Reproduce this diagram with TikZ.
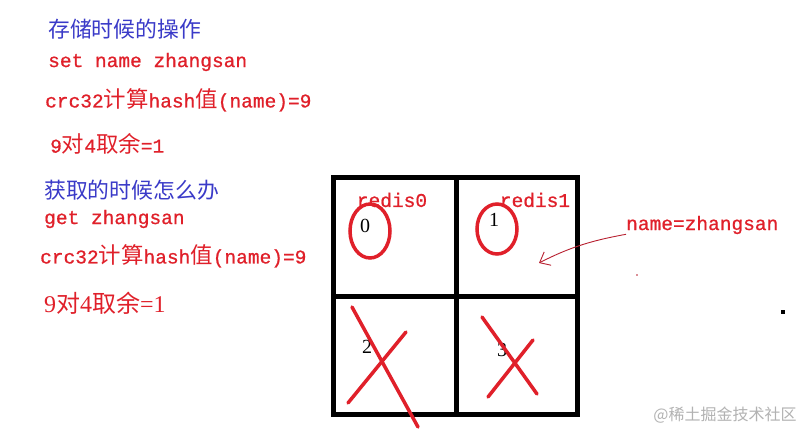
\documentclass[tikz,border=0pt]{standalone}
\usepackage{fontspec}
\setmonofont[FakeBold=0.8]{Liberation Mono}
\newfontfamily\cjk[Scale=1.15]{Noto Sans CJK SC}
\newfontfamily\cjkbig{Noto Sans CJK SC}
\newfontfamily\digitfont{Liberation Serif}
\newfontfamily\markfont{Noto Sans CJK SC}
\usetikzlibrary{arrows.meta}
\newcommand{\zh}[1]{{\cjk #1}}
\definecolor{penred}{HTML}{E0202A}
\definecolor{penblue}{HTML}{3A3AC8}
\definecolor{inkred}{HTML}{B82030}
\tikzset{
  redtxt/.style={text=penred, anchor=west, inner sep=0pt,
    font=\ttfamily\fontsize{19.5}{20}\selectfont},
  bluetxt/.style={text=penblue, anchor=west, inner sep=0pt,
    font=\fontsize{19}{20}\selectfont},
  cellnum/.style={inner sep=0pt, font=\digitfont\fontsize{20}{21}\selectfont},
  gridpen/.style={line width=5pt},
  circpen/.style={draw=penred, line width=3.5pt},
  crosspen/.style={draw=penred, line width=3.5pt, line cap=round},
}
\begin{document}
\begin{tikzpicture}[x=1pt, y=-1pt]
  \useasboundingbox[fill=white] (0,0) rectangle (806,431);

  % Texts on the left
  \node[bluetxt] (store) at (48,29) {\zh{存储时候的操作}};
  \node[redtxt] (set) at (48,62) {set name zhangsan};
  \node[redtxt] (crcA) at (45,100) {crc32\zh{计算}hash\zh{值}(name)=9};
  \node[redtxt] (modA) at (50,144) {9\zh{对}4\zh{取余}=1};
  \node[bluetxt] (fetch) at (44,190) {\zh{获取的时候怎么办}};
  \node[redtxt] (get) at (44,219) {get zhangsan};
  \node[redtxt] (crcB) at (40,256) {crc32\zh{计算}hash\zh{值}(name)=9};
  \node[redtxt, font=\digitfont\fontsize{24}{25}\selectfont] (modB) at (44,303)
    {9{\cjkbig 对}4{\cjkbig 取余}=1};

  % Grid of the four redis
  \draw[gridpen] (333,177) rectangle (577,414);
  \draw[gridpen] (456,177) -- (456,414);
  \draw[gridpen] (333,296) -- (577,296);

  % Cell labels
  \node[redtxt, anchor=center] (r0) at (392,200) {redis0};
  \node[redtxt, anchor=center] (r1) at (535,200) {redis1};
  \node[cellnum] (n0) at (365,226) {0};
  \node[cellnum] (n1) at (494,220) {1};
  \node[cellnum] (n2) at (367,347) {2};
  \node[cellnum] (n3) at (502,350) {3};

  % Circles and crosses
  \draw[circpen] (370,231) ellipse [x radius=20, y radius=27];
  \draw[circpen] (497,229) ellipse [x radius=20, y radius=25];
  \draw[crosspen] (352,307) -- (418,427);
  \draw[crosspen] (406,332) -- (348,403);
  \draw[crosspen] (482,317) -- (537,394);
  \draw[crosspen] (533,340) -- (488,397);

  % Key and arrow
  \node[redtxt] (key) at (626,225) {name=zhangsan};
  \coordinate (tip) at (539,263);
  \draw[inkred, line width=0.9pt, -{Straight Barb[length=9pt, width=15pt]}]
    (key.south west) .. controls (595,240) and (572,246) .. (tip);
  \fill[inkred] (637,275) circle (0.8);
  \fill[black] (781,310) rectangle (785,314);

  % Watermark
  \node[text=black!30, inner sep=0pt, font=\markfont\fontsize{16}{17}\selectfont]
    (mark) at (725,415) {@稀土掘金技术社区};
\end{tikzpicture}
\end{document}
